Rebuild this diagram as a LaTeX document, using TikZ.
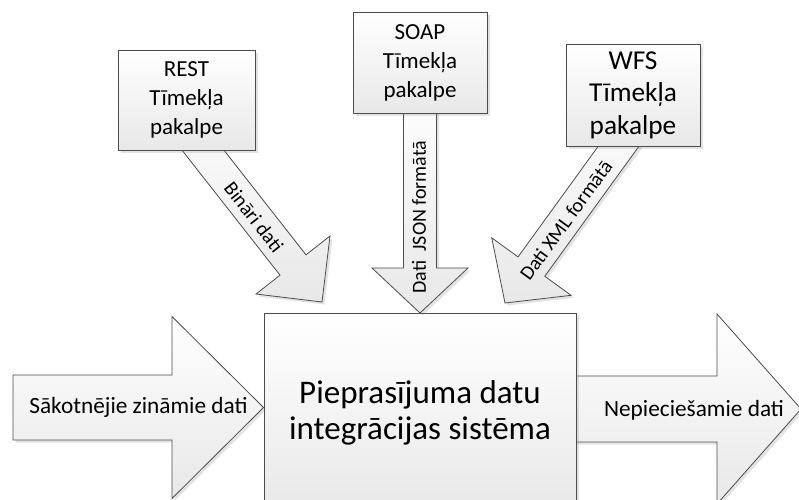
\documentclass[tikz,border=0pt]{standalone}
\usepackage{fontspec}
\setmainfont{Carlito}
\usetikzlibrary{calc,shadows}

\tikzset{
  outline/.style={draw=black!70, line width=0.8pt},
  softfill/.style={top color=white, bottom color=black!9},
  castshadow/.style={drop shadow={shadow xshift=2.5pt, shadow yshift=-2.5pt, opacity=0.22}},
  blockarrow/.style={outline, softfill, castshadow},
  svcbox/.style={outline, softfill, castshadow, rectangle, align=center, inner sep=0pt},
  flowlabel/.style={font=\fontsize{23.3}{28}\selectfont, inner sep=0pt},
  pipelabel/.style={font=\fontsize{20}{24}\selectfont, inner sep=0pt},
}

% Block arrow: #1 name, #2 start, #3 tip, #4 shaft half width,
% #5 head half width, #6 head length
\newcommand\blockarrow[6]{%
  \coordinate (#1-b) at ($(#3)!#6!(#2)$);
  \path[blockarrow]
    ($(#2)!#4!90:(#3)$) -- ($(#1-b)!#4!90:(#3)$) -- ($(#1-b)!#5!90:(#3)$)
    -- (#3)
    -- ($(#1-b)!#5!-90:(#3)$) -- ($(#1-b)!#4!-90:(#3)$) -- ($(#2)!#4!-90:(#3)$)
    -- cycle;
}

\begin{document}
\begin{tikzpicture}[x=1pt,y=-1pt]
\useasboundingbox (0,0) rectangle (799,499);
\clip (0,0) rectangle (799,499);

% input and output flows
\coordinate (in-s) at (13,407.5);
\coordinate (in-t) at (263.5,407.5);
\blockarrow{in}{in-s}{in-t}{32.5pt}{91pt}{91.5pt}
\coordinate (out-s) at (560,409);
\coordinate (out-t) at (801,409);
\blockarrow{out}{out-s}{out-t}{33pt}{95pt}{84pt}

% integration system
\node[svcbox, minimum width=312pt, minimum height=200pt] (sys) at (420,413) {};
\node[font=\fontsize{33}{36.7}\selectfont, align=center, inner sep=0pt] (systext) at (sys.center)
  {Pieprasījuma datu\\integrācijas sistēma};

\node[flowlabel] (inlabel) at (138.5,407) {Sākotnējie zināmie dati};
\node[flowlabel] (outlabel) at (694,410) {Nepieciešamie dati};

% service feeds
\coordinate (rest-s) at (166,103);
\coordinate (rest-t) at (322,302);
\blockarrow{restfeed}{rest-s}{rest-t}{16.5pt}{47pt}{47pt}
\coordinate (soap-s) at (420,80);
\coordinate (soap-t) at (420,313);
\blockarrow{soapfeed}{soap-s}{soap-t}{16.5pt}{48pt}{45pt}
\coordinate (wfs-s) at (655,96);
\coordinate (wfs-t) at (505,303);
\blockarrow{wfsfeed}{wfs-s}{wfs-t}{16.5pt}{49pt}{45pt}

% web services
\node[svcbox, minimum width=137pt, minimum height=100pt,
      font=\fontsize{23}{29}\selectfont] (rest) at (186.5,100) {REST\\Tīmekļa\\pakalpe};
\node[svcbox, minimum width=134pt, minimum height=101pt,
      font=\fontsize{23}{29}\selectfont] (soap) at (420,62.5) {SOAP\\Tīmekļa\\pakalpe};
\node[svcbox, minimum width=134pt, minimum height=102pt,
      font=\fontsize{27.3}{32.5}\selectfont] (wfs) at (633,95) {WFS\\Tīmekļa\\pakalpe};

% feed labels
\node[pipelabel, rotate=-52] (restlabel) at (254,217) {Bināri dati};
\node[pipelabel, rotate=90] (soaplabel) at (419,217) {Dati\ \ JSON formātā};
\node[pipelabel, rotate=54] (wfslabel) at (566,220) {Dati XML formātā};
\end{tikzpicture}
\end{document}
